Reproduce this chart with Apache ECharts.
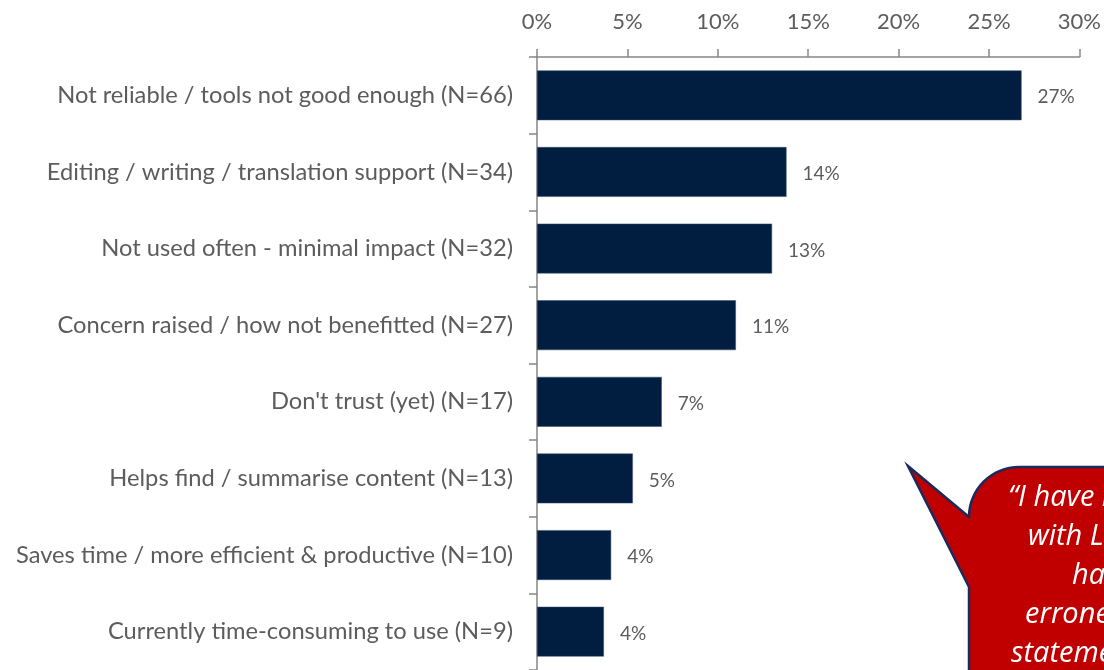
<!DOCTYPE html>
<html>
<head>
<meta charset="utf-8">
<script src="https://cdn.jsdelivr.net/npm/echarts@6/dist/echarts.min.js"></script>
<style>
  html, body { margin: 0; padding: 0; background: #ffffff; }
  #chart { width: 1104px; height: 670px; }
</style>
</head>
<body>
<div id="chart"></div>
<script>
// Reasons given (categories, top to bottom)
const categories = [
  'Not reliable / tools not good enough (N=66)',
  'Editing / writing / translation support (N=34)',
  'Not used often - minimal impact (N=32)',
  'Concern raised / how not benefitted (N=27)',
  "Don't trust (yet) (N=17)",
  'Helps find / summarise content (N=13)',
  'Saves time / more efficient & productive (N=10)',
  'Currently time-consuming to use (N=9)'
];
// Share of respondents, percent
const shares = [26.8, 13.8, 13.0, 11.0, 6.9, 5.3, 4.1, 3.7];
// Axis ticks (percent)
const axisMin = 0;
const axisMax = 30;
const axisStep = 5;
// Quote shown in the callout, one entry per line
const quoteLines = [
  '\u201CI have had issues',
  'with LLMs that',
  'have made',
  'erroneous',
  'statements'
];

const chart = echarts.init(document.getElementById('chart'), null, { renderer: 'canvas' });
const FONT = 'Lato, "Open Sans", sans-serif';
const QUOTE_FONT = '"Open Sans", "Noto Sans", sans-serif';
const GREY = '#5c5c5c';
const AXIS = '#868686';

// Speech-bubble outline: pointer tip, rounded top-left corner, box running off the page
function bubblePoints() {
  const pts = [[908, 466], [969, 517]];
  const cx = 1019, cy = 517, r = 50;
  for (let i = 0; i <= 16; i++) {
    const a = Math.PI + (Math.PI / 2) * (i / 16);
    pts.push([cx + r * Math.cos(a), cy + r * Math.sin(a)]);
  }
  pts.push([1130, 467], [1130, 700], [969, 700], [969, 587]);
  return pts;
}

const quoteX = [1008, 1028, 1072, 1025, 1011];
const quoteGraphics = quoteLines.map((t, i) => ({
  type: 'text',
  x: quoteX[i],
  y: 483 + i * 39,
  style: {
    text: t,
    fill: '#ffffff',
    font: 'italic 29px ' + QUOTE_FONT,
    textAlign: 'left',
    textVerticalAlign: 'top'
  },
  z: 11
}));

chart.setOption({
  animation: false,
  grid: { left: 537, top: 57, width: 543, height: 620, containLabel: false },
  xAxis: {
    type: 'value',
    position: 'top',
    min: axisMin,
    max: axisMax,
    interval: axisStep,
    axisLine: { show: true, lineStyle: { color: AXIS, width: 1.5 } },
    axisTick: { show: true, length: 8, inside: false, lineStyle: { color: AXIS, width: 1.5 } },
    splitLine: { show: false },
    axisLabel: {
      formatter: '{value}%',
      color: GREY,
      fontFamily: FONT,
      fontSize: 22,
      margin: 24
    }
  },
  yAxis: {
    type: 'category',
    data: categories,
    inverse: true,
    axisLine: { show: true, lineStyle: { color: AXIS, width: 1.5 } },
    axisTick: { show: true, length: 8, alignWithLabel: false, lineStyle: { color: AXIS, width: 1.5 } },
    axisLabel: {
      color: GREY,
      fontFamily: FONT,
      fontSize: 23.7,
      margin: 24
    }
  },
  series: [{
    type: 'bar',
    data: shares,
    barCategoryGap: '35%',
    itemStyle: { color: '#011E41', borderColor: '#3a5070', borderWidth: 0.5 },
    label: {
      show: true,
      position: 'right',
      distance: 16,
      offset: [0, 2],
      color: GREY,
      fontFamily: FONT,
      fontSize: 19,
      formatter: p => Math.round(p.value) + '%'
    }
  }],
  graphic: [
    {
      type: 'polygon',
      shape: { points: bubblePoints() },
      style: { fill: '#C00000', stroke: '#1B2A5C', lineWidth: 2.5 },
      z: 10
    }
  ].concat(quoteGraphics)
});
</script>
</body>
</html>
